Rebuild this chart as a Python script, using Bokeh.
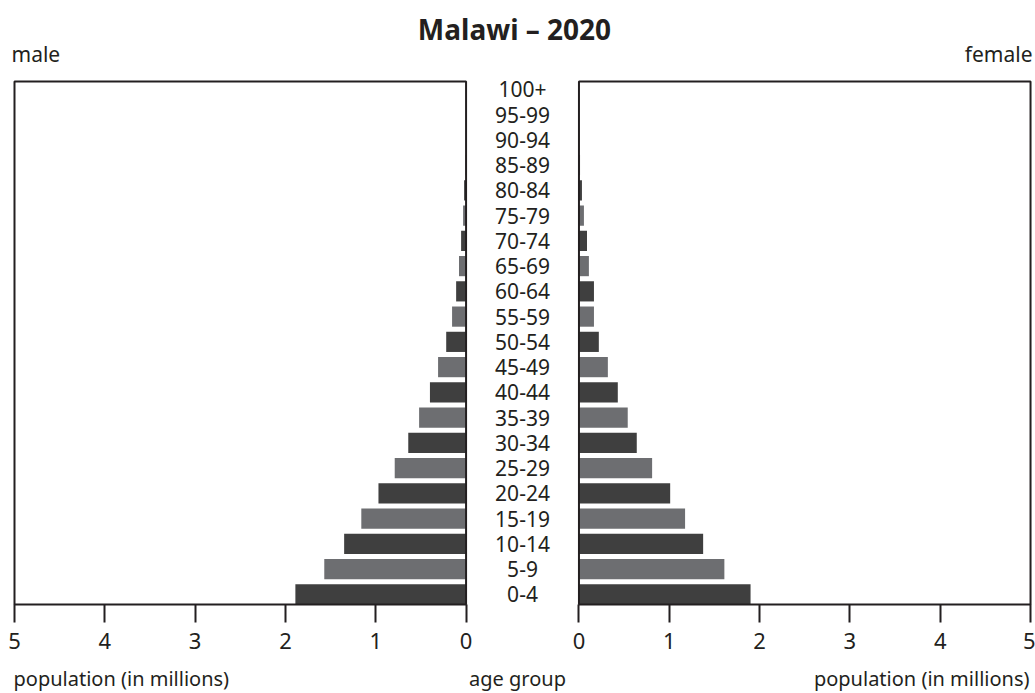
from bokeh.plotting import figure
from bokeh.models import ColumnDataSource, Range1d, FixedTicker, Label, LinearAxis
from bokeh.core.properties import value
from bokeh.embed import file_html
from bokeh.resources import INLINE

# ---- data (population in millions) ----
age_groups = ["0-4", "5-9", "10-14", "15-19", "20-24", "25-29", "30-34", "35-39",
              "40-44", "45-49", "50-54", "55-59", "60-64", "65-69", "70-74", "75-79",
              "80-84", "85-89", "90-94", "95-99", "100+"]
male = [1.89, 1.57, 1.35, 1.16, 0.97, 0.79, 0.64, 0.52, 0.40, 0.31, 0.22, 0.155,
        0.11, 0.078, 0.055, 0.033, 0.022, 0.006, 0.002, 0.0003, 0.0]
female = [1.90, 1.61, 1.375, 1.175, 1.01, 0.81, 0.64, 0.54, 0.43, 0.32, 0.22, 0.166,
          0.166, 0.11, 0.089, 0.055, 0.033, 0.012, 0.004, 0.001, 0.0]
tick_values = [0, 1, 2, 3, 4, 5]
title_text = "Malawi \u2013 2020"

FONT = "Noto Sans"
TXT = "#231f20"
DARK = "#3f3f3f"
LIGHT = "#6d6e71"
HALF_GAP = 0.625   # half of the space between the two panels (axis units)
XMAX = 5
W, H = 1035, 693

# plotting area covers the whole canvas; panel boxes sit inside it
X0, X1 = -5.78, 5.68
Y0, Y1 = -3.924, 23.517
BOX_BOTTOM, BOX_TOP = -0.4, 20.31

def X(px):
    return X0 + px * (X1 - X0) / W

def Y(py):
    return Y1 - py * (Y1 - Y0) / H

n = len(age_groups)
idx = list(range(n))
colors = [DARK if i % 2 == 0 else LIGHT for i in idx]

src = ColumnDataSource(dict(
    y=idx,
    age=age_groups,
    m_left=[-(HALF_GAP + v) for v in male],
    m_right=[-HALF_GAP] * n,
    f_left=[HALF_GAP] * n,
    f_right=[HALF_GAP + v for v in female],
    color=colors,
))

p = figure(width=W, height=H, output_backend="svg", toolbar_location=None,
           x_range=Range1d(X0, X1), y_range=Range1d(Y0, Y1),
           x_axis_location=None, y_axis_location=None,
           min_border=0)
p.outline_line_color = None
p.xgrid.visible = False
p.ygrid.visible = False
p.background_fill_color = "white"

# bars
p.hbar(y="y", left="m_left", right="m_right", height=0.8, fill_color="color",
       line_color=None, source=src)
p.hbar(y="y", left="f_left", right="f_right", height=0.8, fill_color="color",
       line_color=None, source=src)

# panel frames
p.quad(left=[-(XMAX + HALF_GAP), HALF_GAP], right=[-HALF_GAP, XMAX + HALF_GAP],
       bottom=[BOX_BOTTOM, BOX_BOTTOM], top=[BOX_TOP, BOX_TOP], fill_color=None,
       line_color=TXT, line_width=2)

# age group labels
p.text(x=0, y="y", text="age", source=src, text_align="center", text_baseline="middle",
       text_font=value(FONT), text_font_size="21px", text_color=TXT)

# x axis: ticks for both panels, drawn at the bottom of the boxes
ticks = [-(HALF_GAP + t) for t in tick_values] + [HALF_GAP + t for t in tick_values]
overrides = {}
for t in tick_values:
    overrides[-(HALF_GAP + t)] = str(t)
    overrides[HALF_GAP + t] = str(t)
ax = LinearAxis(fixed_location=BOX_BOTTOM, ticker=FixedTicker(ticks=ticks))
ax.major_label_overrides = overrides
ax.axis_line_color = None
ax.major_tick_out = 18
ax.major_tick_in = 0
ax.major_tick_line_width = 2
ax.major_tick_line_color = TXT
ax.minor_tick_line_color = None
ax.major_label_text_font = FONT
ax.major_label_text_font_size = "22px"
ax.major_label_text_color = TXT
ax.major_label_standoff = 10
p.add_layout(ax, "below")

def lab(text, px, py, align, size, style="normal"):
    p.add_layout(Label(x=X(px), y=Y(py), text=text,
                       text_align=align, text_baseline="alphabetic",
                       text_font=FONT, text_font_size=size, text_font_style=style,
                       text_color=TXT))

lab(title_text, 514, 28, "center", "28px", "bold")
lab("male", 11, 53, "left", "21px")
lab("female", 1032, 53, "right", "21px")
lab("population (in millions)", 13, 678, "left", "20px")
lab("age group", 517, 678, "center", "20px")
lab("population (in millions)", 1029, 678, "right", "20px")

open("out.html", "w").write(file_html(p, INLINE))
